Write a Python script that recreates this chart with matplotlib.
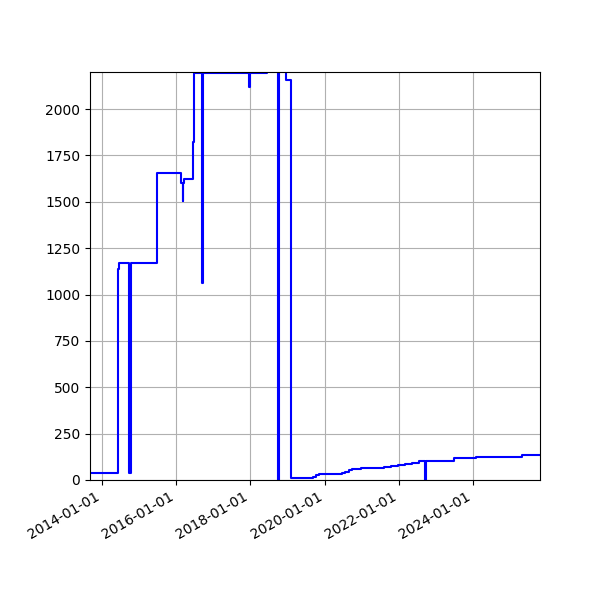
import matplotlib
matplotlib.use("Agg")
import matplotlib.pyplot as plt
import matplotlib.dates as mdates
import numpy as np
import pandas as pd

# step series: date of change -> new value
dates = [
    "2013-08-01", "2014-06-08", "2014-06-14", "2014-09-28", "2014-10-10",
    "2015-06-25", "2016-02-18", "2016-03-05", "2016-03-12", "2016-03-20",
    "2016-06-14", "2016-06-20", "2016-06-28", "2016-09-08", "2016-09-20",
    "2017-12-22", "2017-12-30", "2018-06-15", "2018-09-28", "2018-10-08",
    "2018-12-15", "2019-02-08", "2019-08-10", "2019-09-10", "2019-10-10",
    "2019-11-05", "2020-05-10", "2020-06-20", "2020-07-25", "2020-08-25",
    "2020-10-01", "2020-11-10", "2020-12-20", "2021-04-01", "2021-08-10",
    "2021-10-20", "2021-12-20", "2022-03-01", "2022-05-10", "2022-07-20",
    "2022-09-12", "2022-09-26", "2023-06-25", "2024-02-01", "2025-05-01",
    "2026-01-01",
]
values = [
    38, 1140, 1168, 38, 1168,
    1655, 1600, 1505, 1600, 1625,
    1822, 2048, 2195, 1060, 2195,
    2118, 2195, 2600, 0, 2600,
    2155, 11, 12, 18, 25,
    31, 33, 38, 45, 52,
    58, 62, 64, 66, 70,
    75, 80, 86, 93, 104,
    0, 104, 117, 126, 135,
    135,
]

x = pd.to_datetime(dates)

fig, ax = plt.subplots(figsize=(6, 6), dpi=100)
ax.plot(x, values, color="blue", lw=1.5, drawstyle="steps-post")
ax.set_xlim(pd.Timestamp("2013-09-05"), pd.Timestamp("2025-10-22"))
ax.set_ylim(0, 2200)
ax.set_yticks(np.arange(0, 2001, 250))
ax.xaxis.set_major_locator(mdates.YearLocator(2))
ax.xaxis.set_major_formatter(mdates.DateFormatter("%Y-%m-%d"))
ax.grid(True)
fig.autofmt_xdate()
fig.subplots_adjust(left=0.15, right=0.9, bottom=0.2, top=0.88)
fig.savefig("out.png")
